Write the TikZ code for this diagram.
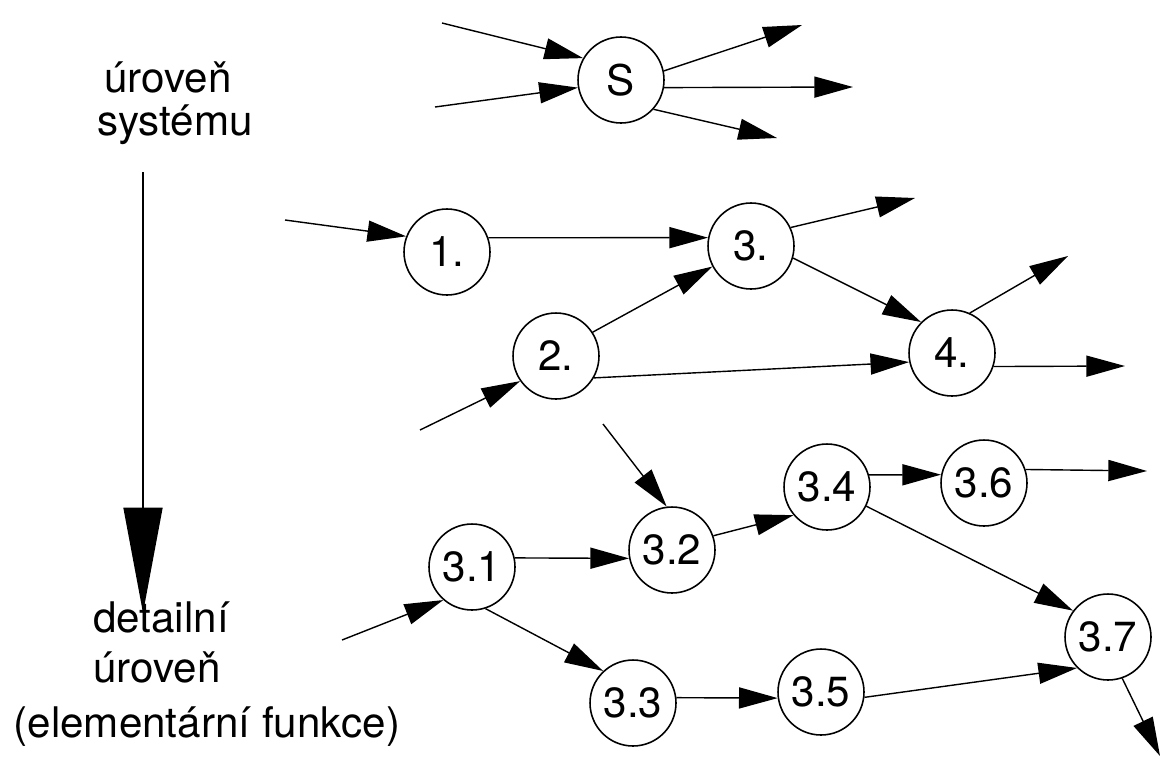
\documentclass[tikz,border=0pt]{standalone}
\usepackage{fontspec}
\setmainfont{TeX Gyre Heros}
\usetikzlibrary{arrows.meta}
\usetikzlibrary{positioning}

\begin{document}
\begin{tikzpicture}[x=0.02cm, y=-0.02cm]
% Define block styles
\tikzstyle{func} = [circle, draw, line width=0.9pt, minimum size=1.72cm,
    inner sep=0pt, font=\fontsize{24}{28}\selectfont]
\tikzstyle{leveltext} = [font=\fontsize{24}{28}\selectfont, inner sep=0pt, anchor=base]
\tikzstyle{line} = [draw, line width=0.8pt, -{Triangle[length=22pt,width=12pt]}]
\tikzstyle{bigline} = [draw, line width=1.6pt, -{Triangle[length=60pt,width=22pt]}]

\useasboundingbox (0,0) rectangle (1162,758);

    % Place texts
    \node [leveltext] (sysA) at (168,92) {úroveň};
    \node [leveltext] (sysB) at (175,135) {systému};
    \node [leveltext] (detA) at (161,632) {detailní};
    \node [leveltext] (detB) at (157,682) {úroveň};
    \node [leveltext] (detC) at (207,737) {(elementární funkce)};
    \coordinate (levTop) at (143,172);
    \coordinate (levBot) at (143,613);
    % Place nodes
    \node [func] (S) at (621,80) {S};
    \node [func] (n1) at (447,252) {1.};
    \node [func] (n3) at (751,246) {3.};
    \node [func] (n2) at (556,356) {2.};
    \node [func] (n4) at (952,353) {4.};
    \node [func] (n31) at (472,567) {3.1};
    \node [func] (n32) at (672,550) {3.2};
    \node [func] (n33) at (633,703) {3.3};
    \node [func] (n34) at (827,487) {3.4};
    \node [func] (n36) at (984,483) {3.6};
    \node [func] (n35) at (821,692) {3.5};
    \node [func] (n37) at (1108,637) {3.7};
    % Free ends
    \coordinate (sInA) at (442,23);
    \coordinate (sInB) at (435,107);
    \coordinate (sOutA) at (802,25);
    \coordinate (sOutB) at (853,87);
    \coordinate (sOutC) at (777,138);
    \coordinate (in1) at (285,220);
    \coordinate (in2) at (420,430);
    \coordinate (out3) at (915,198);
    \coordinate (out4a) at (1068,256);
    \coordinate (out4b) at (1125,366);
    \coordinate (in32) at (603,424);
    \coordinate (in31) at (342,640);
    \coordinate (out36) at (1147,471);
    \coordinate (out37) at (1160,756);
    % Draw edges
    \path [bigline] (levTop) -- (levBot);
    \path [line] (sInA) -- (S.150);
    \path [line] (sInB) -- (S.190);
    \path [line] (S.12) -- (sOutA);
    \path [line] (S.350) -- (sOutB);
    \path [line] (S.318) -- (sOutC);
    \path [line] (in1) -- (n1.159);
    \path [line] (n1.19) -- (n3.169);
    \path [line] (in2) -- (n2.215);
    \path [line] (n2.33) -- (n3.208);
    \path [line] (n2.330) -- (n4.192);
    \path [line] (n3.25) -- (out3);
    \path [line] (n3.344) -- (n4.135);
    \path [line] (n4.66) -- (out4a);
    \path [line] (n4.342) -- (out4b);
    \path [line] (in31) -- (n31.229);
    \path [line] (n31.12) -- (n32.191);
    \path [line] (n31.288) -- (n33.133);
    \path [line] (in32) -- (n32.97);
    \path [line] (n32.19) -- (n34.220);
    \path [line] (n33.7) -- (n35.188);
    \path [line] (n34.16) -- (n36.169);
    \path [line] (n36.18) -- (out36);
    \path [line] (n34.334) -- (n37.143);
    \path [line] (n35.353) -- (n37.225);
    \path [line] (n37.289) -- (out37);
\end{tikzpicture}
\end{document}
